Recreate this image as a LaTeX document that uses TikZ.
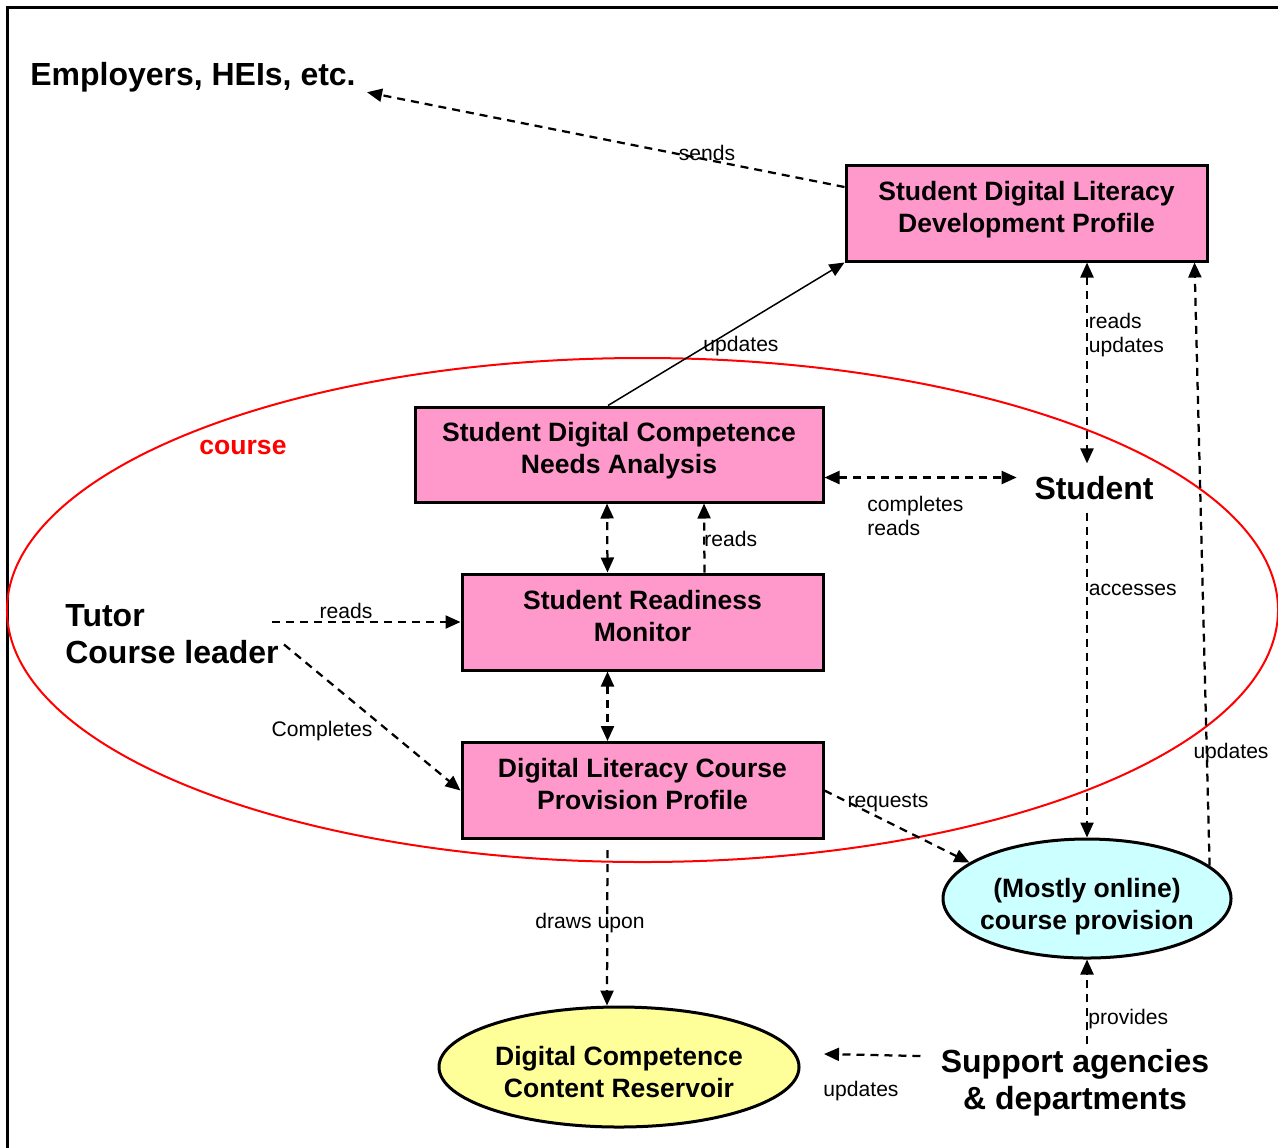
\documentclass[tikz,border=0pt]{standalone}
\usepackage{fontspec}
\setmainfont{Liberation Sans}
\usetikzlibrary{shapes.geometric,arrows.meta,positioning}
\definecolor{boxpink}{RGB}{255,153,204}
\definecolor{provcyan}{RGB}{204,255,255}
\definecolor{resyellow}{RGB}{255,255,153}
\newcommand{\boxfont}{\bfseries\fontsize{15.1}{18.1}\selectfont}
\newcommand{\actorfont}{\bfseries\fontsize{18.2}{21}\selectfont}
\newcommand{\lblfont}{\fontsize{12}{13.6}\selectfont}
\tikzstyle{arrow} = [line width=0.45mm, dash pattern=on 1.6mm off 1.2mm, -{Triangle[length=3mm,width=2.6mm]}]
\tikzset{
 box/.style
  = {rectangle, draw, fill=boxpink, line width=0.6mm, minimum width=72.2mm,
     minimum height=19.2mm, align=center, font=\boxfont,
     execute at end node={\rule[-2.6mm]{0pt}{1pt}}},
 blob/.style
  = {ellipse, draw, line width=0.6mm, inner ysep=0pt, inner xsep=-1.6mm,
     align=center, font=\boxfont},
 actor/.style
  = {font=\actorfont, inner sep=1mm},
 lbl/.style
  = {font=\lblfont, inner sep=0.5mm},
 both/.style
  = {arrow, {Triangle[length=3mm,width=2.6mm]}-{Triangle[length=3mm,width=2.6mm]}},
}

\begin{document}
\begin{tikzpicture}[x=0.2mm, y=-0.2mm]

\useasboundingbox (0,0) rectangle (1278,1147);

% Frame
\draw[line width=0.6mm] (7,1170) -- (7,7) -- (1300,7);

% Course
\node[ellipse, draw=red, line width=0.4mm, minimum width=254.2mm,
      minimum height=100.8mm] (course) at (642.5,610) {};
\node[font=\boxfont, text=red] (courselbl) at (243,447) {course};

% Boxes
\node[box] (profile) at (1026.5,213) {Student Digital Literacy\\Development Profile};
\node[box, minimum width=81.6mm, minimum height=19mm] (needs) at (619,454.5)
  {Student Digital Competence\\Needs Analysis};
\node[box] (monitor) at (642.5,622) {Student Readiness\\Monitor};
\node[box] (provision) at (642.5,790.5) {Digital Literacy Course\\Provision Profile};

% Ellipses
\node[blob, fill=provcyan, minimum width=57.6mm, minimum height=23.8mm] (online)
  at (1087,898.5) {\rule{0pt}{7.2mm}(Mostly online)\\course provision};
\node[blob, fill=resyellow, minimum width=72mm, minimum height=24mm] (reservoir)
  at (619,1067) {\rule{0pt}{5.9mm}Digital Competence\\Content Reservoir};

% Actors
\node[actor, anchor=west] (employers) at (25,77) {Employers, HEIs, etc.};
\node[actor, inner sep=2.5mm] (student) at (1094,488) {Student};
\node[actor, anchor=west, align=left] (tutor) at (60,634.5) {Tutor\\Course leader};
\node[actor, align=center] (support) at (1075,1083) {Support agencies\\\& departments};

% Connectors
\draw[arrow] ([yshift=5.2mm]profile.west) -- ([shift={(1.2mm,1mm)}]employers.south east);
\draw[line width=0.3mm, -{Triangle[length=3mm,width=2.6mm]}]
  ([xshift=-2.2mm]needs.north) -- (profile.south west);
\draw[both] (online |- profile.south) -- (online |- student.north);
\draw[arrow] (online.15) -- ([xshift=-2.8mm]profile.south east);
\draw[arrow] (student.south -| online) -- (online.north);
\draw[both, shorten >=1mm] ([yshift=-4.6mm]needs.east) -- ([yshift=-4.6mm]needs.east -| student.west);
\draw[both] ([xshift=-7mm]monitor.north) -- ([xshift=-2.4mm]needs.south);
\draw[arrow] ([xshift=12.4mm]monitor.north) -- ([xshift=17mm]needs.south);
\draw[arrow] ([xshift=-2.4mm]tutor.east |- monitor.west) -- (monitor.west);
\draw[arrow] ([yshift=-2mm]tutor.east) -- (provision.west);
\draw[both] ([xshift=-7mm]monitor.south) -- ([xshift=-7mm]provision.north);
\draw[arrow] (provision.east) -- (online.163);
\draw[arrow, shorten <=2mm] ([xshift=-7mm]provision.south) -- ([xshift=-2.4mm]reservoir.north);
\draw[arrow] (online |- support.north) -- (online.south);
\draw[arrow] ([shift={(-3mm,5.4mm)}]support.west) -- ([shift={(4.7mm,2.6mm)}]reservoir.east);

% Connector labels
\node[lbl] (sends) at (707,153) {sends};
\node[lbl] (updprofile) at (741,346) {updates};
\node[lbl, anchor=west, align=left] (readsupd) at (1086,335) {reads\\updates};
\node[lbl] (updonline) at (1231,753) {updates};
\node[lbl, anchor=west] (accesses) at (1086,590) {accesses};
\node[lbl, anchor=west, align=left] (completes) at (864.5,516) {completes\\reads};
\node[lbl, anchor=west] (readsmon) at (701.5,539) {reads};
\node[lbl] (readstutor) at (346,611) {reads};
\node[lbl] (completestutor) at (322,731) {Completes};
\node[lbl] (requests) at (888,803) {requests};
\node[lbl] (draws) at (590,923) {draws upon};
\node[lbl, anchor=west] (provides) at (1085.5,1019) {provides};
\node[lbl] (updreservoir) at (861,1091) {updates};

\end{tikzpicture}
\end{document}
